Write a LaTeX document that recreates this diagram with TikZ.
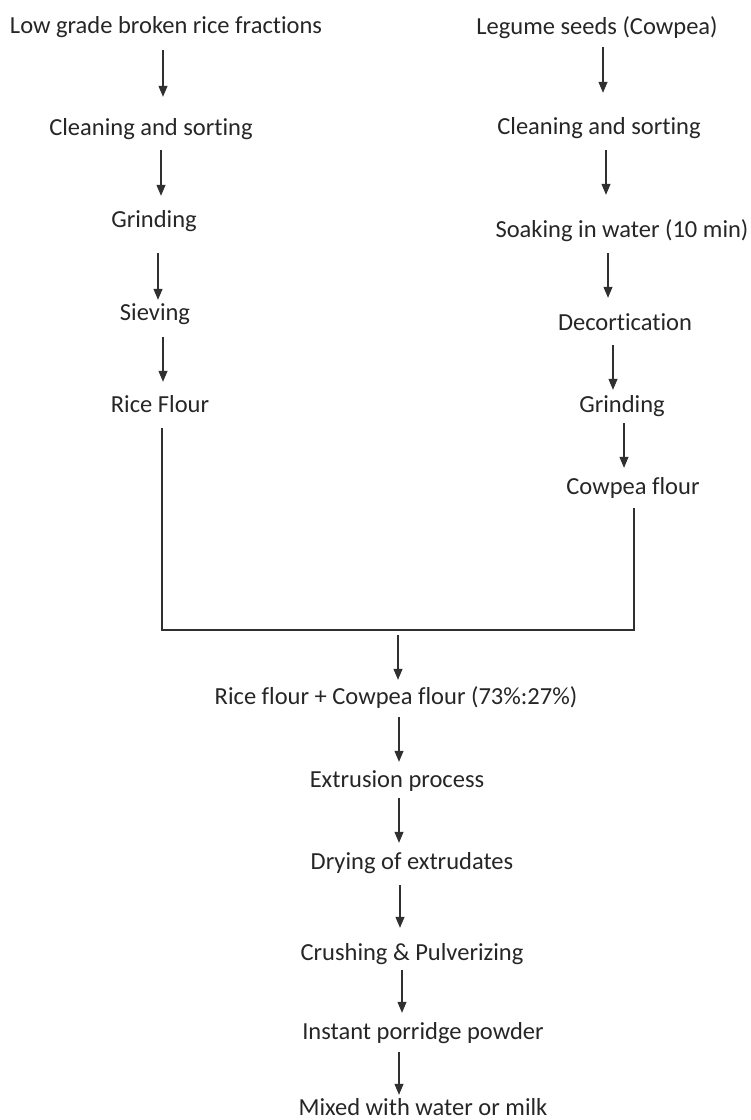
\documentclass[tikz,border=0pt]{standalone}
\usepackage{fontspec}
\setmainfont{Carlito}[Ligatures=NoCommon]
\usetikzlibrary{arrows.meta}
\definecolor{ink}{HTML}{262626}
\definecolor{lnc}{HTML}{303030}
\tikzset{
  lbl/.style={inner sep=0pt, anchor=base, text height=17.5pt, text depth=3.5pt,
    font=\fontsize{24.5}{28}\selectfont, text=ink},
  arr/.style={draw=lnc, line width=1.1pt, -{Triangle[width=9pt,length=11pt]}},
  ln/.style={draw=lnc, line width=1.3pt}
}
\begin{document}
\begin{tikzpicture}[x=1pt,y=-1pt]
\useasboundingbox (0,0) rectangle (751,1120);
% left column
\node[lbl] (L1) at (166,33) {Low grade broken rice fractions};
\node[lbl] (L2) at (151,135) {Cleaning and sorting};
\node[lbl] (L3) at (154,227) {Grinding};
\node[lbl] (L4) at (155,320) {Sieving};
\node[lbl] (L5) at (160,412) {Rice Flour};
% right column
\node[lbl] (R1) at (597,34) {Legume seeds (Cowpea)};
\node[lbl] (R2) at (599,134) {Cleaning and sorting};
\node[lbl] (R3) at (622,237) {Soaking in water (10 min)};
\node[lbl] (R4) at (625,330) {Decortication};
\node[lbl] (R5) at (622,412) {Grinding};
\node[lbl] (R6) at (633,494) {Cowpea flour};
% bottom column
\node[lbl] (M1) at (396,704) {Rice flour + Cowpea flour (73\%:27\%)};
\node[lbl] (M2) at (397,787) {Extrusion process};
\node[lbl] (M3) at (412,869) {Drying of extrudates};
\node[lbl] (M4) at (412,960) {Crushing \& Pulverizing};
\node[lbl] (M5) at (423,1039) {Instant porridge powder};
\node[lbl] (M6) at (423,1115) {Mixed with water or milk};
\coordinate (J) at (398,630);
% left arrows
\draw[arr, shorten <=13.5pt, shorten >=20.5pt] (L1.south -| 163,0) -- (L2.north -| 163,0);
\draw[arr, shorten <=11.5pt, shorten >=13.5pt] (L2.south -| 161,0) -- (L3.north -| 161,0);
\draw[arr, shorten <=22.5pt, shorten >=2.5pt] (L3.south -| 158,0) -- (L4.north -| 158,0);
\draw[arr, shorten <=13.5pt, shorten >=12.5pt] (L4.south -| 163,0) -- (L5.north -| 163,0);
% right arrows
\draw[arr, shorten <=9.5pt, shorten >=23.5pt] (R1.south -| 603,0) -- (R2.north -| 603,0);
\draw[arr, shorten <=12.5pt, shorten >=24.5pt] (R2.south -| 606,0) -- (R3.north -| 606,0);
\draw[arr, shorten <=12.5pt, shorten >=14.5pt] (R3.south -| 608,0) -- (R4.north -| 608,0);
\draw[arr, shorten <=11.5pt, shorten >=4.5pt] (R4.south -| 613,0) -- (R5.north -| 613,0);
\draw[arr, shorten <=7.5pt, shorten >=8.5pt] (R5.south -| 624,0) -- (R6.north -| 624,0);
% merge
\draw[ln, shorten <=12.5pt, shorten >=10.5pt] (L5.south -| 162,0) |- (J) -| (R6.south -| 634,0);
\draw[arr, shorten <=5pt, shorten >=6.5pt] (J) -- (M1.north -| J);
% bottom arrows
\draw[arr, shorten <=9.5pt, shorten >=7.5pt] (M1.south -| 399,0) -- (M2.north -| 399,0);
\draw[arr, shorten <=7.5pt, shorten >=8.5pt] (M2.south -| 399,0) -- (M3.north -| 399,0);
\draw[arr, shorten <=12.5pt, shorten >=14.5pt] (M3.south -| 400,0) -- (M4.north -| 400,0);
\draw[arr, shorten <=6.5pt, shorten >=8.5pt] (M4.south -| 402,0) -- (M5.north -| 402,0);
\draw[arr, shorten <=9.5pt, shorten >=2.5pt] (M5.south -| 399,0) -- (M6.north -| 399,0);
\end{tikzpicture}
\end{document}
